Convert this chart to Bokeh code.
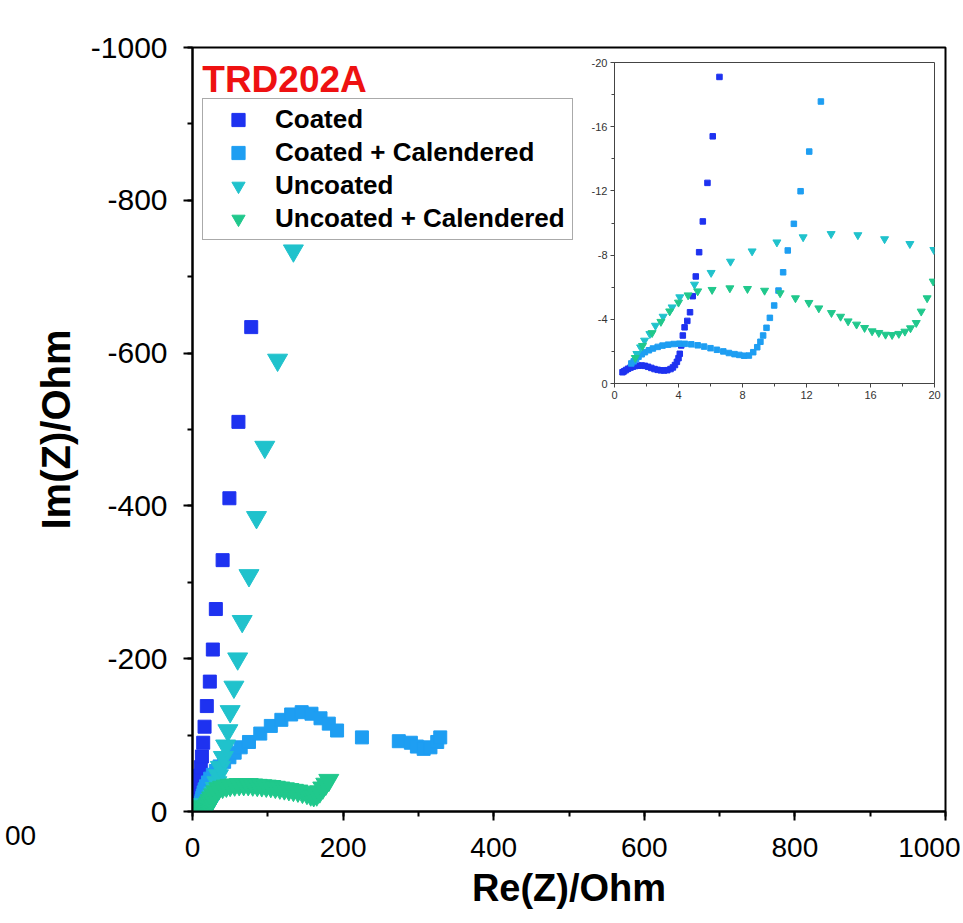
from bokeh.plotting import figure
from bokeh.models import (Range1d, SingleIntervalTicker, Legend, LegendItem, Label,
                          ColumnDataSource, PrintfTickFormatter, Div)
from bokeh.embed import file_html
from bokeh.resources import INLINE

# ---------------- data (Re(Z), Im(Z) in Ohm) ----------------
coated_re = [0.5, 0.6, 0.72, 0.85, 1.0, 1.15, 1.3, 1.5, 1.7, 1.9, 2.1, 2.3, 2.5, 2.7, 2.9, 3.1,
             3.3, 3.5, 3.65, 3.78, 3.9, 4.0, 4.08, 4.17, 4.27, 4.38, 4.55, 4.72, 4.89, 5.08,
             5.29, 5.52, 5.81, 6.14, 6.56, 7.1, 7.8, 8.7, 9.8, 11, 12.5, 14.2, 16, 19, 23,
             27, 31, 40, 49, 61, 78]
coated_im = [-0.7, -0.76, -0.84, -0.92, -0.99, -1.05, -1.09, -1.11, -1.12, -1.1, -1.04, -0.97,
             -0.9, -0.85, -0.82, -0.81, -0.83, -0.9, -1.0, -1.15, -1.35, -1.58, -1.85, -2.37,
             -2.99, -3.5, -3.9, -4.44, -5.44, -6.67, -8.18, -10.1, -12.5, -15.4, -19.1, -24,
             -30, -38, -47, -58, -72, -90, -111, -138, -170, -212, -265, -329, -410, -510, -634]

coated_cal_re = [1.05, 1.2, 1.35, 1.5, 1.7, 1.9, 2.15, 2.4, 2.7, 3.0, 3.35, 3.7, 4.05, 4.4, 4.8,
                 5.2, 5.6, 6.0, 6.4, 6.8, 7.15, 7.5, 7.8, 8.1, 8.4, 8.67, 8.92, 9.12, 9.29, 9.5,
                 9.71, 9.98, 10.25, 10.54, 10.83, 11.21, 11.63, 12.17, 12.9, 13.7, 14.8, 16.2,
                 18, 20.5, 23.5, 27, 31, 36, 42, 49, 56, 64, 75, 90, 104, 118, 131, 145, 158,
                 170, 181, 192, 225, 274, 290, 298, 307, 316, 325, 329]
coated_cal_im = [-1.25, -1.38, -1.52, -1.67, -1.82, -1.95, -2.07, -2.18, -2.28, -2.36, -2.42,
                 -2.46, -2.48, -2.47, -2.44, -2.38, -2.3, -2.2, -2.1, -2.0, -1.9, -1.83, -1.78,
                 -1.73, -1.74, -1.95, -2.26, -2.6, -2.99, -3.47, -4.09, -4.86, -5.79, -6.93,
                 -8.29, -9.95, -11.98, -14.45, -17.57, -21, -25, -29, -33, -38, -43, -48, -53,
                 -59, -65, -71, -77, -84, -91, -102, -112, -120, -127, -130, -128, -122, -115,
                 -106, -97, -92, -90, -85, -82, -84, -91, -97]

uncoated_re = [1.4, 1.63, 1.88, 2.21, 2.56, 3.04, 3.6, 4.08, 5.0, 6.04, 7.25, 8.6, 10.15, 11.79,
               13.54, 15.21, 16.88, 18.46, 19.96, 21.1, 22.2, 23.3, 24.5, 25.7, 27, 28.6, 30.3,
               32.3, 34.5, 37, 41, 44, 47, 50, 55, 60, 66, 75, 85, 96, 113, 134]
uncoated_im = [-1.85, -2.26, -2.68, -3.09, -3.61, -4.17, -4.75, -5.38, -6.17, -6.9, -7.6, -8.24,
               -8.8, -9.12, -9.32, -9.25, -9.0, -8.7, -8.33, -8.4, -9.2, -10.7, -13, -16, -19.7,
               -24.5, -30.5, -38, -47, -58, -71, -86, -106, -131, -163, -200, -249, -309, -385,
               -477, -591, -734]

uncoated_cal_re = [1.3, 1.75, 2.35, 2.9, 3.45, 4.0, 4.6, 5.2, 6.1, 7.21, 8.31, 9.38, 10.35,
                   11.31, 12.15, 12.77, 13.56, 14.13, 14.6, 15.13, 15.63, 16.1, 16.52, 16.94,
                   17.35, 17.77, 18.15, 18.5, 18.86, 19.17, 19.54, 19.92, 20.4, 21, 22, 23.5,
                   25.5, 28, 31, 35, 40, 45, 50, 56, 62, 68, 74, 80, 86, 92, 98, 104, 110, 116,
                   122, 128, 134, 140, 146, 152, 157, 161, 165, 169, 173, 177, 181]
uncoated_cal_im = [-1.6, -2.35, -3.15, -3.85, -4.5, -5.05, -5.5, -5.75, -5.84, -5.94, -5.9,
                   -5.79, -5.63, -5.32, -5.03, -4.69, -4.4, -4.17, -3.88, -3.68, -3.47, -3.26,
                   -3.16, -3.05, -3.03, -3.1, -3.24, -3.45, -3.78, -4.49, -5.32, -6.36, -7.6, -9,
                   -11.5, -14.5, -18, -22, -26, -30, -32, -33.5, -34.5, -35, -35.5, -35.5, -35.5,
                   -35, -34.5, -34, -33.5, -33, -32, -31, -30, -29, -28, -27, -25.5, -24, -22,
                   -21, -22, -26, -31, -36, -41]

series_names = ["Coated", "Coated + Calendered", "Uncoated", "Uncoated + Calendered"]
series_colors = ["#1E32F0", "#1E9EF2", "#20C2CC", "#20C88C"]
series_markers = ["square", "square", "inverted_triangle", "inverted_triangle"]
series_data = [(coated_re, coated_im), (coated_cal_re, coated_cal_im),
               (uncoated_re, uncoated_im), (uncoated_cal_re, uncoated_cal_im)]

panel_title = "TRD202A"
neighbour_tick = "00"

FONT = "Liberation Sans"

# ---------------- main figure ----------------
p = figure(width=960, height=922, output_backend="svg", toolbar_location=None,
           x_range=Range1d(0, 1000), y_range=Range1d(0, -1000),
           min_border_left=192, min_border_top=47, min_border_right=15, min_border_bottom=111)
p.grid.visible = False
p.outline_line_color = "black"
p.outline_line_width = 2
p.background_fill_color = "white"
p.border_fill_color = "white"

for ax in (p.xaxis[0], p.yaxis[0]):
    ax.ticker = SingleIntervalTicker(interval=200, num_minor_ticks=2)
    ax.formatter = PrintfTickFormatter(format="%d")
    ax.axis_line_width = 2
    ax.major_tick_line_width = 2
    ax.minor_tick_line_width = 2
    ax.major_tick_in = 0
    ax.major_tick_out = 9
    ax.minor_tick_in = 0
    ax.minor_tick_out = 5
    ax.major_label_text_font = FONT
    ax.major_label_text_color = "black"
    ax.axis_label_text_font = FONT
    ax.axis_label_text_font_style = "bold"
    ax.axis_label_text_color = "black"

p.xaxis.axis_label = "Re(Z)/Ohm"
p.yaxis.axis_label = "Im(Z)/Ohm"
p.xaxis.major_label_text_font_size = "28px"
p.yaxis.major_label_text_font_size = "30px"
p.xaxis.axis_label_text_font_size = "38px"
p.yaxis.axis_label_text_font_size = "40px"
p.xaxis.major_label_standoff = 17
p.xaxis.axis_label_standoff = 7
p.yaxis.major_label_standoff = 16
p.yaxis.axis_label_standoff = 10

items = []
for name, color, marker, (xs, ys) in zip(series_names, series_colors, series_markers, series_data):
    src = ColumnDataSource(dict(x=xs, y=ys))
    size = 13 if marker == "square" else 20
    r = p.scatter("x", "y", source=src, marker=marker, size=size,
                  fill_color=color, line_color=color)
    items.append(LegendItem(label=name, renderers=[r]))

legend = Legend(items=items, location=(10, 571), padding=4, spacing=0,
                glyph_width=62, glyph_height=33, label_height=33, label_width=293,
                label_standoff=6, border_line_color="#555555", border_line_width=1,
                background_fill_color="white", background_fill_alpha=1.0,
                label_text_font=FONT, label_text_font_size="26px",
                label_text_font_style="bold", label_text_color="black")
p.add_layout(legend, "center")

p.add_layout(Label(x=13, y=-942, y_offset=12, text=panel_title, text_font=FONT,
                   text_font_size="37px", text_font_style="bold", text_color="#EE1111",
                   text_baseline="alphabetic"))

# ---------------- inset ----------------
ins = figure(width=364, height=353, output_backend="svg", toolbar_location=None,
             x_range=Range1d(0, 20), y_range=Range1d(0, -20),
             min_border_left=36, min_border_top=10, min_border_right=8, min_border_bottom=22,
             styles={"position": "absolute", "left": "578px", "top": "52px", "z-index": "5"})
ins.grid.visible = False
ins.outline_line_color = "#444444"
ins.outline_line_width = 1
ins.background_fill_color = "white"
ins.border_fill_color = "white"
for ax in (ins.xaxis[0], ins.yaxis[0]):
    ax.ticker = SingleIntervalTicker(interval=4, num_minor_ticks=2)
    ax.formatter = PrintfTickFormatter(format="%d")
    ax.axis_line_color = "#444444"
    ax.major_tick_line_color = "#444444"
    ax.minor_tick_line_color = "#444444"
    ax.major_tick_in = 0
    ax.major_tick_out = 4
    ax.minor_tick_in = 0
    ax.minor_tick_out = 3
    ax.major_label_text_font = FONT
    ax.major_label_text_font_size = "11px"
    ax.major_label_text_color = "#333333"
    ax.major_label_standoff = 3

for color, marker, (xs, ys) in zip(series_colors, series_markers, series_data):
    src = ColumnDataSource(dict(x=xs, y=ys))
    size = 5.5 if marker == "square" else 8
    ins.scatter("x", "y", source=src, marker=marker, size=size,
                fill_color=color, line_color=color)

# cut-off tick label of the neighbouring panel at the far left
edge = Div(text=('<span style="font-family: \'Liberation Sans\'; font-size: 28px; '
                 'line-height: 32px; color: black;">' + neighbour_tick + '</span>'),
           styles={"position": "absolute", "left": "0px", "top": "815px", "z-index": "6"})

open("out.html", "w").write(file_html([p, ins, edge], INLINE))
